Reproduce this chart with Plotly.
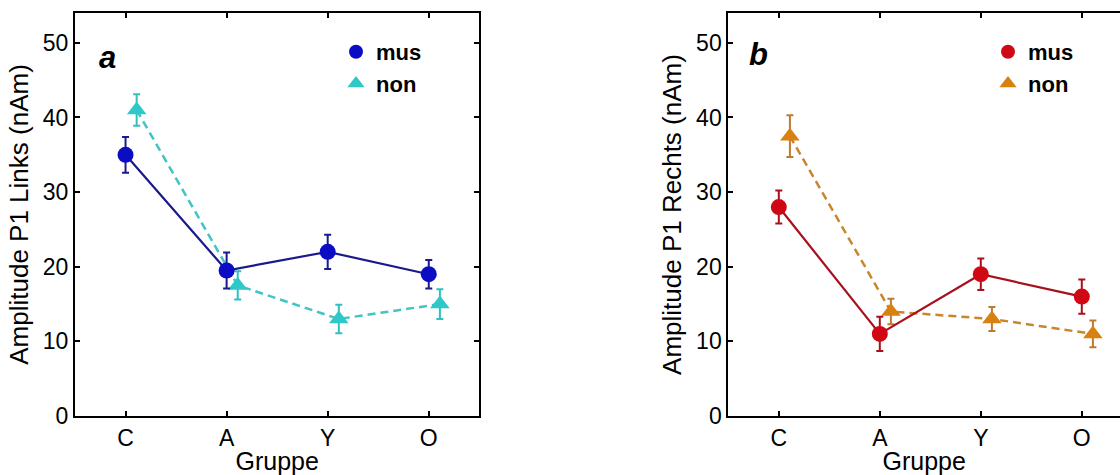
import plotly.graph_objects as go

# ---- data ----
groups = ["C", "A", "Y", "O"]
series_names = ["mus", "non"]

links_mus = [35.0, 19.5, 22.0, 19.0]
links_mus_err = [2.4, 2.4, 2.3, 1.9]
links_non = [41.0, 17.5, 13.0, 15.0]
links_non_err = [2.1, 1.9, 1.9, 2.0]

rechts_mus = [28.0, 11.0, 19.0, 16.0]
rechts_mus_err = [2.2, 2.3, 2.1, 2.3]
rechts_non = [37.5, 14.0, 13.0, 11.0]
rechts_non_err = [2.8, 1.7, 1.6, 1.8]

y_ticks = [0, 10, 20, 30, 40, 50]
panel_labels = ["a", "b"]
y_titles = ["Amplitude P1 Links (nAm)", "Amplitude P1 Rechts (nAm)"]
x_title = "Gruppe"

# ---- layout constants ----
W, H = 1120, 475
FONT = "Arial, Liberation Sans, Helvetica, sans-serif"
pos = list(range(1, len(groups) + 1))
non_shift = 0.11
TOP, BOT = 13, 416
PH = BOT - TOP

def px_x(p):
    return p / W

def px_y(p):
    return 1 - (p - TOP) / PH

fig = go.Figure()

def add_panel(ax, mus, mus_err, non, non_err, mus_mk, mus_ln, non_mk, non_ln, non_err_col, mus_err_col):
    xa = "x" if ax == 1 else "x2"
    ya = "y" if ax == 1 else "y2"
    lg = "legend" if ax == 1 else "legend2"
    fig.add_trace(go.Scatter(
        x=[p + non_shift for p in pos], y=non, xaxis=xa, yaxis=ya,
        mode="lines+markers", showlegend=False,
        line=dict(color=non_ln, width=2.5, dash="8px,5px"),
        marker=dict(symbol="triangle-up", size=17, color=non_mk),
        error_y=dict(type="data", array=non_err, visible=True, color=non_err_col, thickness=2, width=3.5),
    ))
    fig.add_trace(go.Scatter(
        x=pos, y=mus, xaxis=xa, yaxis=ya,
        mode="lines+markers", showlegend=False,
        line=dict(color=mus_ln, width=2.2),
        marker=dict(symbol="circle", size=16, color=mus_mk),
        error_y=dict(type="data", array=mus_err, visible=True, color=mus_err_col, thickness=2, width=3.5),
    ))
    # legend entries (markers only)
    fig.add_trace(go.Scatter(x=[None], y=[None], xaxis=xa, yaxis=ya, mode="markers",
                             name=series_names[0], legend=lg,
                             marker=dict(symbol="circle", size=14, color=mus_mk)))
    fig.add_trace(go.Scatter(x=[None], y=[None], xaxis=xa, yaxis=ya, mode="markers",
                             name=series_names[1], legend=lg,
                             marker=dict(symbol="triangle-up", size=15, color=non_mk)))

add_panel(1, links_mus, links_mus_err, links_non, links_non_err,
          "#0c0cc4", "#1a1a8a", "#2ec8c8", "#40c4c4", "#30c0c0", "#1a1a8a")
add_panel(2, rechts_mus, rechts_mus_err, rechts_non, rechts_non_err,
          "#d00814", "#a8101e", "#d88010", "#c8862e", "#c07a30", "#a8101e")

x_dom1 = [px_x(75), px_x(479.3)]
x_dom2 = [px_x(728.3), 1.0]
right_span = (1120 - 728.3) / 101.0

def xaxis_cfg(dom, rng, anchor):
    return dict(domain=dom, range=rng, anchor=anchor, automargin=False,
                tickmode="array", tickvals=pos, ticktext=groups,
                ticks="inside", ticklen=5, tickwidth=1.5, tickcolor="black",
                showline=True, linewidth=2, linecolor="black", mirror="ticks",
                showgrid=False, zeroline=False,
                tickfont=dict(family=FONT, size=23, color="black"),
                title=dict(text=x_title, font=dict(family=FONT, size=25, color="black"), standoff=6))

def yaxis_cfg(anchor, title, mirror):
    return dict(domain=[0, 1], range=[0, 54], anchor=anchor, automargin=False,
                tickmode="array", tickvals=y_ticks,
                ticks="inside", ticklen=5, tickwidth=1.5, tickcolor="black",
                showline=True, linewidth=2, linecolor="black", mirror=mirror,
                showgrid=False, zeroline=False,
                tickfont=dict(family=FONT, size=23, color="black"),
                title=dict(text=title, font=dict(family=FONT, size=26, color="black"), standoff=7))

legend_font = dict(family=FONT, size=22, color="black", weight="bold")

fig.update_layout(
    width=W, height=H,
    margin=dict(l=0, r=0, t=TOP, b=H - BOT),
    paper_bgcolor="white", plot_bgcolor="white",
    xaxis=xaxis_cfg(x_dom1, [0.5, 4.5], "y"),
    yaxis=yaxis_cfg("x", y_titles[0], "ticks"),
    xaxis2=xaxis_cfg(x_dom2, [0.5, 0.5 + right_span], "y2"),
    yaxis2=yaxis_cfg("x2", y_titles[1], False),
    legend=dict(x=px_x(336), y=px_y(31), xanchor="left", yanchor="top",
                bgcolor="rgba(0,0,0,0)", borderwidth=0, tracegroupgap=0,
                font=legend_font),
    legend2=dict(x=px_x(988), y=px_y(31), xanchor="left", yanchor="top",
                 bgcolor="rgba(0,0,0,0)", borderwidth=0, tracegroupgap=0,
                 font=legend_font),
    annotations=[
        dict(text="<b><i>" + panel_labels[0] + "</i></b>", xref="paper", yref="paper",
             x=px_x(107), y=px_y(57), xanchor="center", yanchor="middle",
             showarrow=False, font=dict(family=FONT, size=31, color="black")),
        dict(text="<b><i>" + panel_labels[1] + "</i></b>", xref="paper", yref="paper",
             x=px_x(758), y=px_y(55), xanchor="center", yanchor="middle",
             showarrow=False, font=dict(family=FONT, size=31, color="black")),
    ],
)

fig.write_html("out.html", config={"displayModeBar": False},
               post_script="document.body.style.margin='0';")
